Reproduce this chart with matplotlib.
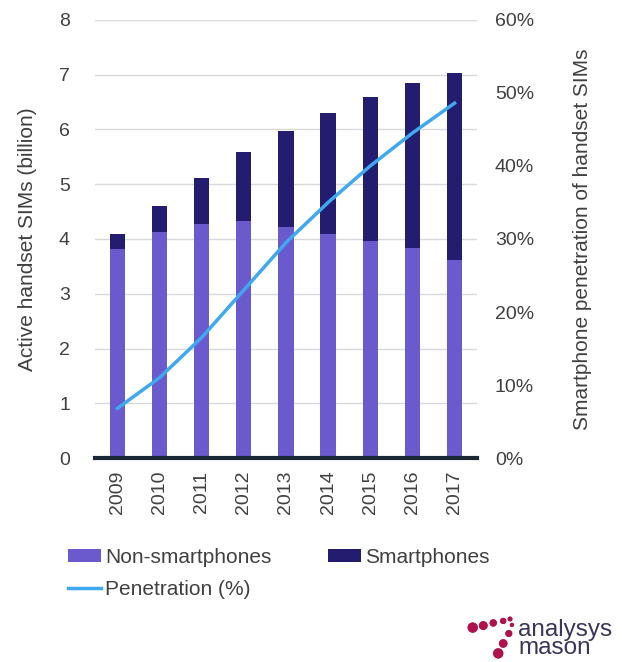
import matplotlib.pyplot as plt
import numpy as np

plt.rcParams['font.family'] = ['Liberation Sans', 'DejaVu Sans']

# Data
years = ['2009', '2010', '2011', '2012', '2013', '2014', '2015', '2016', '2017']
non_smart = [3.82, 4.12, 4.27, 4.32, 4.21, 4.10, 3.97, 3.83, 3.61]
smart = [0.28, 0.48, 0.84, 1.27, 1.76, 2.20, 2.62, 3.02, 3.42]
penetration = [6.8, 11.0, 16.5, 23.0, 29.5, 35.0, 40.0, 44.5, 48.6]

c_non = '#6a5acd'
c_smart = '#241c6e'
c_line = '#3ea8f0'
c_text = '#404040'

fig = plt.figure(figsize=(6.22, 6.62), dpi=100)
ax = fig.add_axes([0.1527, 0.308, 0.614, 0.662])
x = np.arange(len(years))

b1 = ax.bar(x, non_smart, width=0.36, color=c_non, label='Non-smartphones', zorder=2)
b2 = ax.bar(x, smart, width=0.36, bottom=non_smart, color=c_smart, label='Smartphones', zorder=2)

ax.set_ylim(0, 8)
ax.set_xlim(-0.53, len(years) - 0.47)
ax.set_yticks(range(0, 9))
ax.set_xticks(x)
ax.set_xticklabels(years, rotation=90)
ax.grid(axis='y', color='#d9d9d9', linewidth=1, zorder=0)
for s in ['top', 'right', 'left']:
    ax.spines[s].set_visible(False)
ax.spines['bottom'].set_color('#1b2735')
ax.spines['bottom'].set_linewidth(3)
ax.spines['bottom'].set_zorder(3)
ax.tick_params(axis='both', length=0, labelsize=14, colors=c_text)
ax.tick_params(axis='x', pad=9)
ax.tick_params(axis='y', pad=18)
ax.set_ylabel('Active handset SIMs (billion)', fontsize=15, color=c_text, labelpad=16)

ax2 = ax.twinx()
l1, = ax2.plot(x, penetration, color=c_line, linewidth=2.5, label='Penetration (%)', zorder=4)
ax2.set_ylim(0, 60)
ax2.set_yticks(range(0, 61, 10))
ax2.set_yticklabels([f'{v}%' for v in range(0, 61, 10)])
for s in ['top', 'right', 'left', 'bottom']:
    ax2.spines[s].set_visible(False)
ax2.tick_params(axis='y', length=0, labelsize=14, colors=c_text, pad=13)
ax2.set_ylabel('Smartphone penetration of handset SIMs', fontsize=15, color=c_text, labelpad=28)

# legend order gives rows: Non-smartphones | Smartphones / Penetration
fig.legend(handles=[b1, l1, b2], loc='upper left', bbox_to_anchor=(0.109, 0.172),
           ncol=2, frameon=False, fontsize=15, labelcolor=c_text, borderpad=0, borderaxespad=0,
           handlelength=1.6, handleheight=0.6, handletextpad=0.2, columnspacing=2.7, labelspacing=0.6)

# analysys mason logo
fig.text(0.833, 0.035, 'analysys\nmason', fontsize=17.5, color='#3c3459',
         linespacing=0.78, va='center', ha='left')
dot_x = [0.760, 0.777, 0.793, 0.809, 0.820, 0.823, 0.818, 0.809, 0.801]
dot_y = [0.052, 0.055, 0.059, 0.062, 0.065, 0.056, 0.043, 0.028, 0.013]
dot_s = [40, 28, 18, 12, 6, 4, 16, 26, 40]
fig.add_artist(plt.scatter(dot_x, dot_y, s=dot_s, color='#b0124e', transform=fig.transFigure, clip_on=False))

fig.savefig('out.png', dpi=100)
